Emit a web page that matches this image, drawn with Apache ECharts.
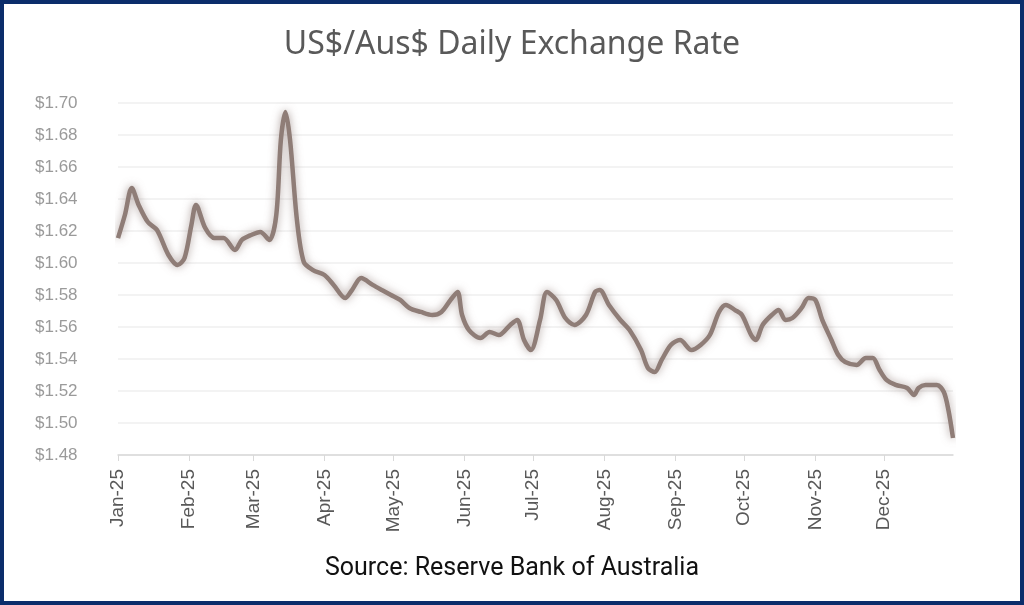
<!DOCTYPE html>
<html>
<head>
<meta charset="utf-8">
<title>US$/Aus$ Daily Exchange Rate</title>
<style>
	html, body { margin: 0; padding: 0; background: #fff; }
	#wrap { position: relative; width: 1024px; height: 605px; }
	#chart { width: 1024px; height: 605px; }
	#frame { position: absolute; left: 0; top: 0; width: 1024px; height: 605px; box-sizing: border-box;
		border: 4px solid #0b2d6b; pointer-events: none; }
</style>
</head>
<body>
<div id="wrap">
	<div id="chart"></div>
	<div id="frame"></div>
</div>
<script src="https://cdn.jsdelivr.net/npm/echarts@6/dist/echarts.min.js"></script>
<script>
	// dates and rates (Aus$ per US$)
	var dates = ['2025-01-01','2025-01-04','2025-01-07','2025-01-10','2025-01-14','2025-01-18','2025-01-23','2025-01-27','2025-01-30',
		'2025-02-02','2025-02-04','2025-02-08','2025-02-12','2025-02-16','2025-02-21','2025-02-24','2025-02-28',
		'2025-03-04','2025-03-08','2025-03-11','2025-03-13','2025-03-15','2025-03-17','2025-03-20','2025-03-23','2025-03-27',
		'2025-04-01','2025-04-05','2025-04-10','2025-04-13','2025-04-17','2025-04-22','2025-04-26','2025-04-30',
		'2025-05-04','2025-05-08','2025-05-13','2025-05-18','2025-05-22','2025-05-26','2025-05-29','2025-05-31',
		'2025-06-03','2025-06-08','2025-06-12','2025-06-16','2025-06-21','2025-06-24','2025-06-27','2025-06-30',
		'2025-07-04','2025-07-07','2025-07-11','2025-07-15','2025-07-19','2025-07-24','2025-07-28','2025-07-30',
		'2025-08-03','2025-08-08','2025-08-12','2025-08-17','2025-08-20','2025-08-23','2025-08-26','2025-08-30',
		'2025-09-03','2025-09-08','2025-09-12','2025-09-16','2025-09-20','2025-09-23','2025-09-27','2025-09-30',
		'2025-10-04','2025-10-06','2025-10-09','2025-10-13','2025-10-16','2025-10-19','2025-10-22','2025-10-26','2025-10-29',
		'2025-11-01','2025-11-04','2025-11-08','2025-11-11','2025-11-14','2025-11-19','2025-11-23','2025-11-26','2025-11-29',
		'2025-12-02','2025-12-06','2025-12-11','2025-12-14','2025-12-16','2025-12-19','2025-12-24','2025-12-27','2025-12-29','2025-12-31'];
	var rates = [1.6156,1.6300,1.6469,1.6363,1.6256,1.6206,1.6050,1.5988,1.6031,
		1.6238,1.6363,1.6219,1.6156,1.6156,1.6081,1.6144,1.6175,
		1.6194,1.6144,1.6300,1.6769,1.6944,1.6769,1.6269,1.6006,1.5956,
		1.5925,1.5863,1.5781,1.5831,1.5906,1.5863,1.5831,1.5800,
		1.5769,1.5719,1.5694,1.5675,1.5694,1.5769,1.5819,1.5675,
		1.5581,1.5531,1.5569,1.5550,1.5613,1.5644,1.5519,1.5456,
		1.5644,1.5819,1.5769,1.5656,1.5613,1.5675,1.5819,1.5831,
		1.5738,1.5644,1.5581,1.5456,1.5344,1.5319,1.5394,1.5488,
		1.5519,1.5456,1.5488,1.5550,1.5694,1.5738,1.5706,1.5675,
		1.5550,1.5519,1.5613,1.5675,1.5706,1.5644,1.5656,1.5719,1.5781,
		1.5769,1.5644,1.5519,1.5425,1.5381,1.5363,1.5406,1.5406,1.5331,
		1.5269,1.5238,1.5219,1.5175,1.5219,1.5238,1.5238,1.5194,1.5081,1.4906];
	var monthNames = ['Jan','Feb','Mar','Apr','May','Jun','Jul','Aug','Sep','Oct','Nov','Dec'];

	var points = [];
	for (var i = 0; i < dates.length; i++) {
		points.push([dates[i], rates[i]]);
	}

	var option = {
		animation: false,
		title: [
			{
				text: 'US$/Aus$ Daily Exchange Rate',
				left: 'center', top: 24,
				textStyle: { fontFamily: 'Noto Sans', fontSize: 32, fontWeight: 'normal', color: '#595959' }
			},
			{
				text: 'Source: Reserve Bank of Australia',
				left: 'center', top: 551,
				textStyle: { fontFamily: 'Roboto', fontSize: 25, fontWeight: 'normal', color: '#111' }
			}
		],
		grid: { left: 118, right: 71, top: 103, bottom: 150 },
		xAxis: {
			type: 'time',
			min: '2025-01-01',
			max: '2025-12-31',
			minInterval: 28 * 86400000,
			maxInterval: 31 * 86400000,
			axisLine: { lineStyle: { color: '#d9d9d9', width: 1.5 } },
			axisTick: { show: true, length: 6, lineStyle: { color: '#d9d9d9' } },
			splitLine: { show: false },
			axisLabel: {
				rotate: 90,
				margin: 14,
				showMaxLabel: false,
				fontFamily: 'Liberation Sans',
				fontSize: 19,
				color: '#595959',
				formatter: function (val) {
					var d = new Date(val);
					return monthNames[d.getMonth()] + '-' + String(d.getFullYear()).slice(2);
				}
			}
		},
		yAxis: {
			type: 'value',
			min: 1.48,
			max: 1.70,
			interval: 0.02,
			axisLine: { show: false },
			axisTick: { show: false },
			splitLine: { lineStyle: { color: '#efefef', width: 1.5 } },
			axisLabel: {
				align: 'left',
				margin: 83,
				fontFamily: 'Liberation Sans',
				fontSize: 17,
				color: '#9a9a9a',
				formatter: function (v) { return '$' + v.toFixed(2); }
			}
		},
		series: [
			{
				name: 'US$/Aus$',
				type: 'line',
				data: points,
				showSymbol: false,
				smooth: 0.3,
				lineStyle: {
					color: '#8f7d77',
					width: 4.5,
					shadowBlur: 8,
					shadowColor: 'rgba(140,120,115,0.7)'
				}
			}
		]
	};

	var chart = echarts.init(document.getElementById('chart'));
	chart.setOption(option);
</script>
</body>
</html>
